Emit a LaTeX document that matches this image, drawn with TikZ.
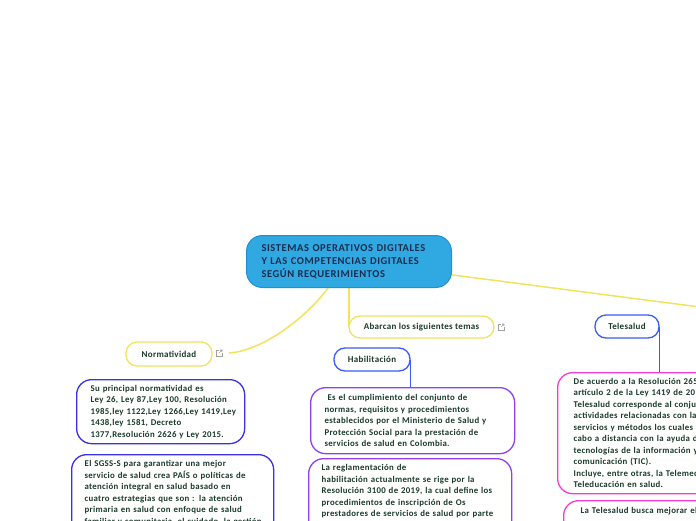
\documentclass[tikz,border=0pt]{standalone}
\usepackage{fontspec}
\setmainfont{Carlito}
\newfontfamily\bodyf[LetterSpace=3.5]{Carlito}
\newfontfamily\headf[LetterSpace=5.5]{Carlito}
\pgfdeclarelayer{background}
\pgfsetlayers{background,main}
\definecolor{tcol}{HTML}{1B3B2B}
\definecolor{ccol}{HTML}{1B2D4F}
\definecolor{yel}{HTML}{F2E35E}
\definecolor{cfill}{HTML}{30A8E2}
\definecolor{cdraw}{HTML}{2090D4}
\definecolor{blu}{HTML}{3A5CF6}
\definecolor{ind}{HTML}{3A30E6}
\definecolor{pur}{HTML}{9040F0}
\definecolor{mag}{HTML}{F23CD8}
\newcommand\ml[1]{\mbox{#1}}
\begin{document}
\begin{tikzpicture}[x=1pt,y=-1pt,
  pill/.style={draw, line width=1.3pt, fill=white, rounded corners=11pt, inner sep=0pt,
    font=\bodyf\bfseries\fontsize{9}{11}\selectfont, text=tcol},
  box/.style={draw, line width=1.3pt, fill=white, rounded corners=15pt, anchor=north west,
    align=left, inner ysep=5pt, text=tcol, font=\bodyf\bfseries\fontsize{8.8}{11.5}\selectfont},
  yl/.style={draw=yel, line width=1.5pt},
  bl/.style={draw=blu, line width=1.3pt},
  ext/.pic={\draw[gray!75, line width=0.6pt] (0,-3) -- (-3,-3) -- (-3,3) -- (3,3) -- (3,0);
            \draw[gray!75, line width=0.6pt] (0,0) -- (3,-3) (1,-3) -- (3,-3) -- (3,-1);}
]
\useasboundingbox (0,0) rectangle (696,520);
\clip (0,0) rectangle (696,520);

% central node
\node[draw=cdraw, fill=cfill, line width=1pt, rounded corners=16pt, anchor=north west,
  inner xsep=15pt, inner ysep=0pt, text width=175pt, minimum height=52pt, align=left,
  text=ccol, font=\headf\bfseries\fontsize{10.5}{13}\selectfont] (c) at (246,235)
  {\ml{SISTEMAS OPERATIVOS DIGITALES}\\\ml{Y LAS COMPETENCIAS DIGITALES}\\\ml{SEGÚN REQUERIMIENTOS}};

% topic pills
\node[pill, draw=yel, minimum width=86pt, minimum height=24pt] (n) at (169,354) {Normatividad};
\node[pill, draw=yel, minimum width=145pt, minimum height=22pt] (a) at (421.5,327) {Abarcan los siguientes temas};
\node[pill, draw=blu, minimum width=64pt, minimum height=23pt] (t) at (627,326.5) {Telesalud};
\node[pill, draw=blu, minimum width=76pt, minimum height=23pt] (h) at (372,359.5) {Habilitación};

\pic at (219,353) {ext};
\pic at (501,327) {ext};
\coordinate (nend) at (229,353);
\coordinate (rend) at (800,320);

% boxes
\node[box, draw=ind, inner xsep=14pt, text width=140pt, minimum height=64pt] (nb1) at (76,379)
  {\ml{Su principal normatividad es}\\\ml{Ley 26, Ley 87,Ley 100, Resolución}\\\ml{1985,ley 1122,Ley 1266,Ley 1419,Ley}\\\ml{1438,ley 1581, Decreto}\\\ml{1377,Resolución 2626 y Ley 2015.}};
\node[box, draw=ind, inner xsep=13pt, text width=176pt, inner ysep=6pt] (nb2) at (71,454)
  {\ml{El SGSS-S para garantizar una mejor}\\\ml{servicio de salud crea PAÍS o políticas de}\\\ml{atención integral en salud basado en}\\\ml{cuatro estrategias que son : la atención}\\\ml{primaria en salud con enfoque de salud}\\\ml{familiar y comunitaria, el cuidado, la gestión}\par\vspace*{30pt}};

\node[box, draw=pur, inner xsep=14pt, text width=176pt, minimum height=66pt] (hb1) at (310,387)
  {\ml{ Es el cumplimiento del conjunto de}\\\ml{normas, requisitos y procedimientos}\\\ml{establecidos por el Ministerio de Salud y}\\\ml{Protección Social para la prestación de}\\\ml{servicios de salud en Colombia.}};
\node[box, draw=pur, inner xsep=13pt, text width=177pt, inner ysep=6pt] (hb2) at (308,458)
  {\ml{La reglamentación de}\\\ml{habilitación actualmente se rige por la}\\\ml{Resolución 3100 de 2019, la cual define los}\\\ml{procedimientos de inscripción de Os}\\\ml{prestadores de servicios de salud por parte}\par\vspace*{30pt}};

\node[box, draw=mag, inner xsep=16pt, text width=190pt, minimum height=121pt] (tb1) at (557,372)
  {\ml{De acuerdo a la Resolución 2654 de 2019, el}\\\ml{artículo 2 de la Ley 1419 de 2010, la}\\\ml{Telesalud corresponde al conjunto de}\\\ml{actividades relacionadas con la salud,}\\\ml{servicios y métodos los cuales se llevan a}\\\ml{cabo a distancia con la ayuda de las}\\\ml{tecnologías de la información y la}\\\ml{comunicación (TIC).}\\\ml{Incluye, entre otras, la Telemedicina y la}\\\ml{Teleducación en salud.}};
\node[box, draw=mag, inner xsep=17pt, text width=190pt, inner ysep=7pt] (tb2) at (563,500)
  {\ml{La Telesalud busca mejorar el}\par\vspace*{30pt}};

% connectors
\begin{pgfonlayer}{background}
\fill[white] (0,0) rectangle (696,520);
\draw[yl] (c.center) -- (rend);
\draw[yl] (c.south) -- (c.south |- a.west);
\draw[yl] (nend) .. controls (262,351) and (306,318) .. ([xshift=-21pt]c.south);
\draw[bl] (h.east) -- (h.east |- hb1.north);
\draw[bl] (t.east) -- (t.east |- tb1.north);
\end{pgfonlayer}
\end{tikzpicture}
\end{document}
